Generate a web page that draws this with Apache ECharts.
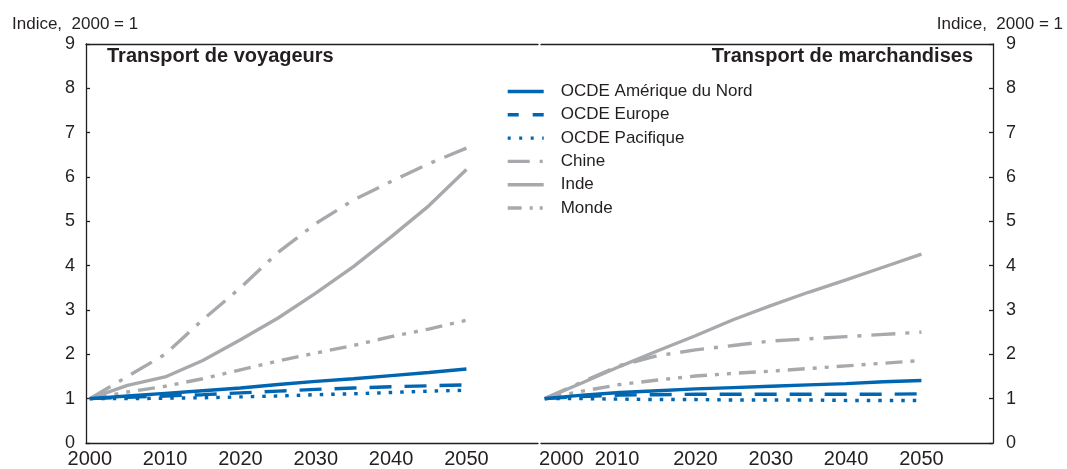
<!DOCTYPE html>
<html>
<head>
<meta charset="utf-8">
<script src="https://cdn.jsdelivr.net/npm/echarts@6/dist/echarts.min.js"></script>
<style>
  html, body { margin: 0; background: #fff; }
  #chart { width: 1067px; height: 469px; }
</style>
</head>
<body>
<div id="chart"></div>
<script>
// années projetées (pas de 5 ans)
const years = ['2000', '2005', '2010', '2015', '2020', '2025', '2030', '2035', '2040', '2045', '2050']
const yTicks = [0, 1, 2, 3, 4, 5, 6, 7, 8, 9]
const unitLabel = 'Indice,  2000 = 1'
const panelTitles = ['Transport de voyageurs', 'Transport de marchandises']
const seriesNames = ['OCDE Amérique du Nord', 'OCDE Europe', 'OCDE Pacifique', 'Chine', 'Inde', 'Monde']

// Transport de voyageurs
const voyNordAm = [1.0, 1.06, 1.12, 1.18, 1.24, 1.32, 1.39, 1.45, 1.52, 1.59, 1.67]
const voyEurope = [1.0, 1.03, 1.06, 1.09, 1.13, 1.17, 1.21, 1.24, 1.27, 1.29, 1.31]
const voyPacif = [1.0, 1.0, 1.01, 1.02, 1.04, 1.06, 1.09, 1.11, 1.14, 1.17, 1.19]
const voyChine = [1.0, 1.5, 2.0, 2.78, 3.5, 4.3, 4.95, 5.48, 5.9, 6.3, 6.65]
const voyInde = [1.0, 1.3, 1.49, 1.86, 2.33, 2.82, 3.38, 3.98, 4.65, 5.35, 6.17]
const voyMonde = [1.0, 1.15, 1.28, 1.45, 1.65, 1.85, 2.03, 2.2, 2.4, 2.57, 2.77]

// Transport de marchandises
const marNordAm = [1.0, 1.08, 1.14, 1.18, 1.22, 1.25, 1.28, 1.31, 1.34, 1.38, 1.41]
const marEurope = [1.0, 1.05, 1.08, 1.09, 1.1, 1.1, 1.1, 1.1, 1.1, 1.1, 1.11]
const marPacif = [1.0, 1.0, 0.99, 0.98, 0.98, 0.97, 0.97, 0.97, 0.96, 0.96, 0.96]
const marChine = [1.0, 1.38, 1.75, 1.97, 2.1, 2.2, 2.3, 2.35, 2.4, 2.45, 2.5]
const marInde = [1.0, 1.36, 1.73, 2.08, 2.42, 2.78, 3.1, 3.4, 3.68, 3.97, 4.26]
const marMonde = [1.0, 1.17, 1.32, 1.42, 1.51, 1.57, 1.62, 1.68, 1.74, 1.8, 1.86]

const BLUE = '#0066b1'
const GREY = '#a7a9ac'
const INK = '#231f20'
const FONT = '"Liberation Sans", Arial, sans-serif'

// une catégorie par année, 2000 à 2059
const axisYears = []
for (let y = 2000; y < 2060; y++) axisYears.push(String(y))

// type = tirets sur les courbes, legendType = tirets dans la légende (36 px)
const styles = {
  'OCDE Amérique du Nord': { color: BLUE, type: 'solid', legendType: 'solid' },
  'OCDE Europe': { color: BLUE, type: [22, 13], legendType: [11, 14] },
  'OCDE Pacifique': { color: BLUE, type: [3.5, 8], legendType: [3, 8.5] },
  'Chine': { color: GREY, type: [24, 10, 4, 10], legendType: [22, 10, 3, 10] },
  'Inde': { color: GREY, type: 'solid', legendType: 'solid' },
  'Monde': { color: GREY, type: [17, 8, 4, 8, 4, 8], legendType: [14, 8, 3, 7, 3, 10] },
}

const voyData = [voyNordAm, voyEurope, voyPacif, voyChine, voyInde, voyMonde]
const marData = [marNordAm, marEurope, marPacif, marChine, marInde, marMonde]

function makeSeries(name, values, panel) {
  const st = styles[name]
  return {
    name,
    type: 'line',
    xAxisIndex: panel === 0 ? 0 : 2,
    yAxisIndex: panel,
    symbol: 'none',
    data: years.map((y, i) => [y, values[i]]),
    color: st.color,
    lineStyle: { color: st.color, width: 3.4, type: st.type, cap: 'butt' },
  }
}

// gris d'abord, bleu par-dessus
const order = [3, 4, 5, 0, 1, 2]
const series = []
order.forEach(i => {
  series.push(makeSeries(seriesNames[i], voyData[i], 0))
  series.push(makeSeries(seriesNames[i], marData[i], 1))
})

const lineStyle = { color: INK, width: 1.3 }

function bottomAxis(gridIndex, rich) {
  return {
    type: 'category',
    gridIndex,
    position: 'bottom',
    data: axisYears,
    boundaryGap: true,
    axisLine: { lineStyle },
    axisTick: { inside: true, length: 4, lineStyle, interval: (i) => i % 2 === 1 },
    axisLabel: {
      interval: (i) => i % 10 === 0,
      fontSize: 20,
      color: INK,
      fontFamily: FONT,
      margin: 6,
      formatter: rich ? (v) => (v === '2000' ? '{a|2000}' : v === '2010' ? '{b|2010}' : v) : null,
      rich: rich ? {
        a: { fontSize: 20, color: INK, fontFamily: FONT, padding: [0, 0, 0, 33] },
        b: { fontSize: 20, color: INK, fontFamily: FONT, padding: [0, 6, 0, 0] },
      } : undefined,
    },
    splitLine: { show: false },
  }
}

function topAxis(gridIndex) {
  return {
    type: 'category',
    gridIndex,
    position: 'top',
    data: axisYears,
    boundaryGap: true,
    axisLine: { lineStyle },
    axisTick: { show: false },
    axisLabel: { show: false },
  }
}

function valueAxis(gridIndex, position) {
  return {
    type: 'value',
    gridIndex,
    position,
    min: yTicks[0],
    max: yTicks[yTicks.length - 1],
    interval: 1,
    axisLine: { show: true, lineStyle },
    axisTick: { show: true, inside: true, length: 4, lineStyle },
    axisLabel: { fontSize: 18, color: INK, fontFamily: FONT, margin: position === 'left' ? 11 : 13 },
    splitLine: { show: false },
  }
}

const unitStyle = { fontSize: 17, fontWeight: 'normal', color: INK, fontFamily: FONT }
const panelStyle = { fontSize: 20, fontWeight: 'bold', color: INK, fontFamily: FONT }

const option = {
  animation: false,
  backgroundColor: '#fff',
  textStyle: { fontFamily: FONT },
  title: [
    { text: unitLabel, left: 12, top: 16, padding: 0, textStyle: unitStyle },
    { text: unitLabel, right: 4, top: 16, padding: 0, textStyle: unitStyle },
    { text: panelTitles[0], left: 107, top: 46, padding: 0, textStyle: panelStyle },
    { text: panelTitles[1], right: 94, top: 46, padding: 0, textStyle: panelStyle },
  ],
  legend: {
    data: seriesNames.map(name => ({
      name,
      lineStyle: { color: styles[name].color, width: 3.4, type: styles[name].legendType, cap: 'butt' },
    })),
    orient: 'vertical',
    left: 506,
    top: 83,
    padding: 0,
    itemWidth: 36,
    itemHeight: 14,
    itemGap: 6.3,
    itemStyle: { opacity: 0 },
    textStyle: { fontSize: 17, color: INK, fontFamily: FONT, lineHeight: 16, padding: [0, 0, 0, 12] },
  },
  grid: [
    { left: 86, top: 44, width: 452, height: 400 },
    { left: 541, top: 44, width: 452, height: 400 },
  ],
  xAxis: [bottomAxis(0, false), topAxis(0), bottomAxis(1, true), topAxis(1)],
  yAxis: [valueAxis(0, 'left'), valueAxis(1, 'right')],
  series,
}

const chart = echarts.init(document.getElementById('chart'))
chart.setOption(option)
window.addEventListener('resize', () => chart.resize())
</script>
</body>
</html>
